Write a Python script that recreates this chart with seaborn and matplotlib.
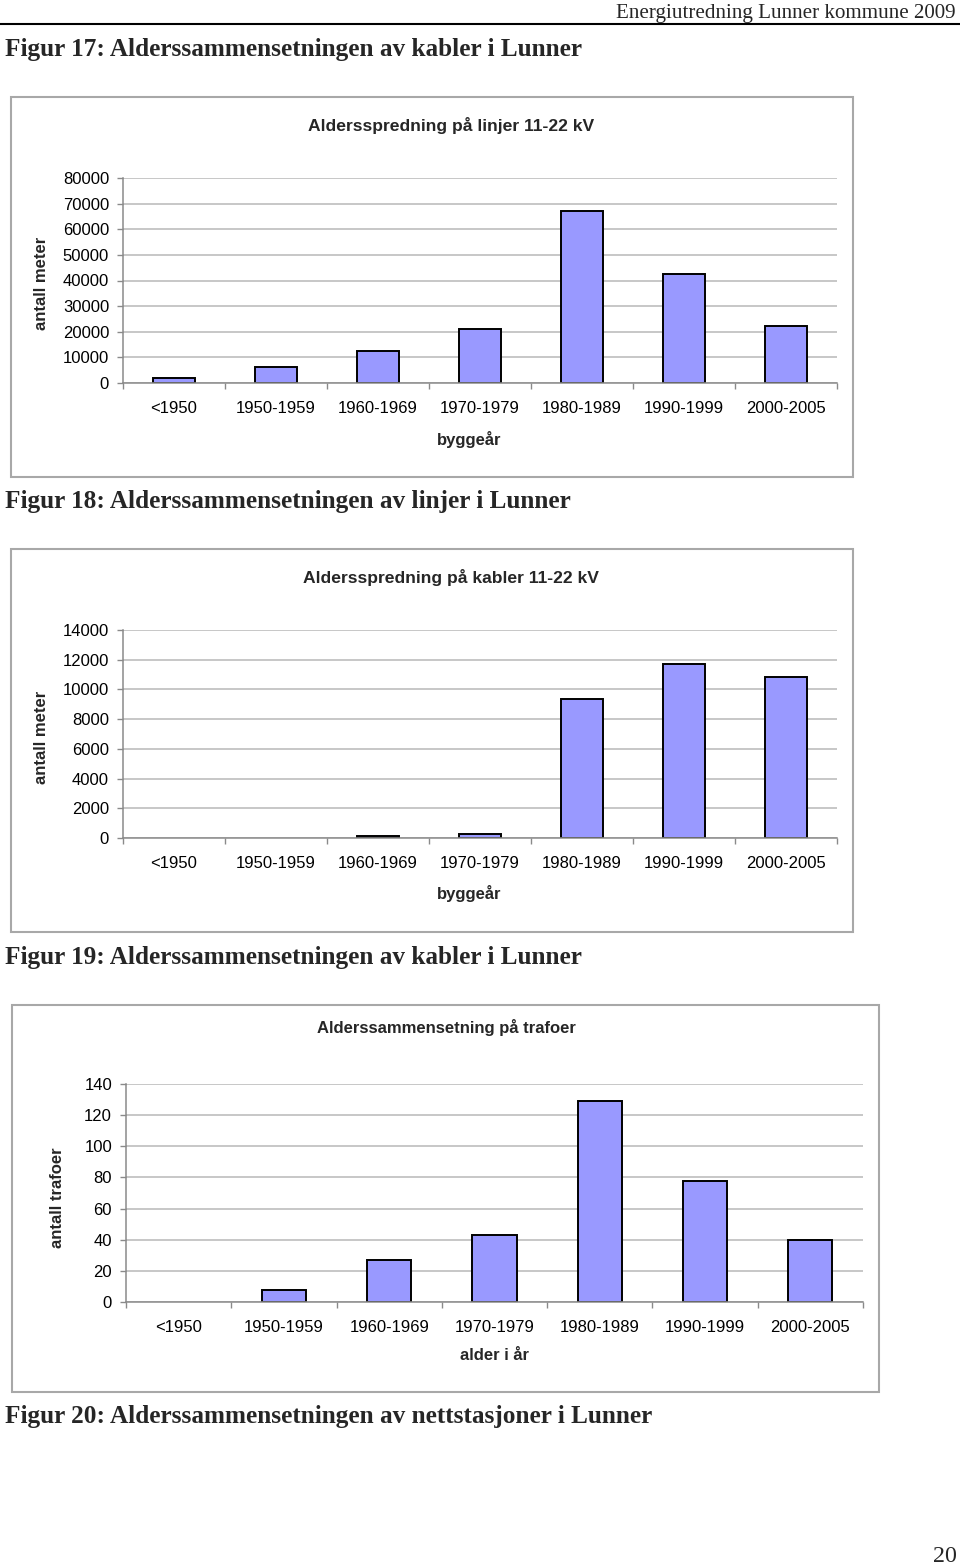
import numpy as np
import pandas as pd
import matplotlib
matplotlib.use("Agg")
import matplotlib.pyplot as plt
import seaborn as sns
from matplotlib.patches import Rectangle
from matplotlib.lines import Line2D

# ---------------- data ----------------
periods = ['<1950', '1950-1959', '1960-1969', '1970-1979', '1980-1989', '1990-1999', '2000-2005']
linjer_meter = [1800, 6200, 12400, 21000, 67200, 42600, 22400]
kabler_meter = [0, 0, 150, 250, 9350, 11700, 10850]
trafoer_antall = [0, 8, 27, 43, 129, 78, 40]

titles = ['Aldersspredning på linjer 11-22 kV',
          'Aldersspredning på kabler 11-22 kV',
          'Alderssammensetning på trafoer']
ylabels = ['antall meter', 'antall meter', 'antall trafoer']
xlabels = ['byggeår', 'byggeår', 'alder i år']
ymax = [80000, 14000, 140]
ystep = [10000, 2000, 20]
captions = ['Figur 17: Alderssammensetningen av kabler i Lunner',
            'Figur 18: Alderssammensetningen av linjer i Lunner',
            'Figur 19: Alderssammensetningen av kabler i Lunner',
            'Figur 20: Alderssammensetningen av nettstasjoner i Lunner']
header = 'Energiutredning Lunner kommune 2009'
page_no = '20'

# ---------------- layout (pixels) ----------------
W, H = 960, 1565
sns.set_style('white')
plt.rcParams['font.family'] = ['Liberation Sans', 'DejaVu Sans']

fig = plt.figure(figsize=(W / 100, H / 100), dpi=100)
fig.patch.set_facecolor('white')

def fx(x):
    return x / W

def fy(y):
    return 1 - y / H

boxes = [(11, 97, 853, 477), (11, 549, 853, 932), (12, 1005, 879, 1392)]
axes_px = [(123, 178, 837, 383), (123, 630, 837, 838), (126, 1084, 863, 1302)]
title_pos = [(451, 126), (451, 577), (446, 1028)]
title_size = [12.6, 12.6, 12]
ylabel_pos = [(42, 283), (42, 737), (57, 1198)]
xlabel_pos = [(469, 440), (469, 894), (494, 1356)]
series = [linjer_meter, kabler_meter, trafoer_antall]

grid_c = '#b8b8b8'
axis_c = '#8a8a8a'

for i in range(3):
    bx0, by0, bx1, by1 = boxes[i]
    fig.add_artist(Rectangle((fx(bx0), fy(by1)), fx(bx1 - bx0), (by1 - by0) / H,
                             transform=fig.transFigure, fill=False,
                             edgecolor='#a8a8a8', linewidth=1.5))
    x0, y0, x1, y1 = axes_px[i]
    ax = fig.add_axes([fx(x0), fy(y1), fx(x1 - x0), (y1 - y0) / H])
    df = pd.DataFrame({'periode': periods, 'verdi': series[i]})
    sns.barplot(data=df, x='periode', y='verdi', order=periods, color='#9999FF',
                saturation=1, edgecolor='black', linewidth=1.4, width=0.42, ax=ax)
    for p in ax.patches:
        if p.get_height() == 0:
            p.set_linewidth(0)
    ax.set_xlim(-0.5, 6.5)
    ax.set_ylim(0, ymax[i])
    ax.set_yticks(np.arange(0, ymax[i] + 1, ystep[i]))
    ax.yaxis.grid(True, color=grid_c, linewidth=1.1)
    ax.set_axisbelow(True)
    for s in ['top', 'right']:
        ax.spines[s].set_visible(False)
    for s in ['left', 'bottom']:
        ax.spines[s].set_color(axis_c)
        ax.spines[s].set_linewidth(1.1)
    ax.tick_params(axis='y', length=4, width=1, color=axis_c, pad=6,
                   labelsize=12, labelcolor='black', left=True)
    ax.set_xticks(np.arange(-0.5, 7, 1), minor=True)
    ax.tick_params(axis='x', which='major', length=0, pad=13, labelsize=12, labelcolor='black')
    ax.tick_params(axis='x', which='minor', length=4, width=1, color=axis_c, bottom=True)
    ax.set_xlabel(xlabels[i], fontsize=12, fontweight='bold')
    ax.set_ylabel(ylabels[i], fontsize=12, fontweight='bold')
    lx, ly = xlabel_pos[i]
    ax.xaxis.set_label_coords((lx - x0) / (x1 - x0), (y1 - ly) / (y1 - y0))
    ax.xaxis.label.set_va('center')
    yx, yy = ylabel_pos[i]
    ax.yaxis.set_label_coords((yx - x0) / (x1 - x0), (y1 - yy) / (y1 - y0))
    ax.yaxis.label.set_va('center')
    tx, ty = title_pos[i]
    fig.text(fx(tx), fy(ty), titles[i], ha='center', va='center',
             fontsize=title_size[i], fontweight='bold')

# header line
fig.add_artist(Line2D([0, 1], [fy(24), fy(24)], transform=fig.transFigure,
                      color='black', linewidth=1.5))

renderer = fig.canvas.get_renderer()

def fit_text(s, x_left, x_right, baseline, weight, ha, size0):
    t = fig.text(fx(x_left if ha == 'left' else x_right), fy(baseline), s,
                 ha=ha, va='baseline', fontsize=size0, fontweight=weight,
                 family=['Liberation Serif', 'DejaVu Serif'])
    for _ in range(3):
        w = t.get_window_extent(renderer).width
        t.set_fontsize(t.get_fontsize() * (x_right - x_left) / w)
    return t

fit_text(header, 618, 956, 18, 'normal', 'right', 14)
fit_text(captions[0], 5, 581, 56, 'bold', 'left', 16)
fit_text(captions[1], 5, 570, 508, 'bold', 'left', 16)
fit_text(captions[2], 5, 581, 964, 'bold', 'left', 16)
fit_text(captions[3], 5, 651, 1423, 'bold', 'left', 16)
fit_text(page_no, 933, 957, 1562, 'normal', 'right', 14)

fig.savefig('out.png', dpi=100, facecolor='white')
